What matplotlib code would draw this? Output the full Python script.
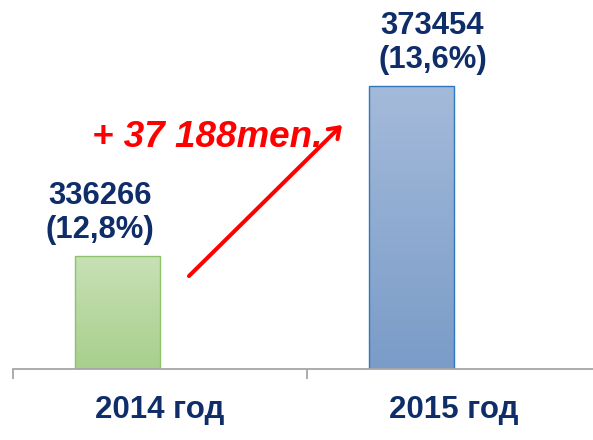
import numpy as np
import matplotlib.pyplot as plt
from matplotlib.colors import LinearSegmentedColormap

plt.rcParams['font.family'] = ['Liberation Sans', 'DejaVu Sans']

# data
years = ['2014 год', '2015 год']
values = [336266, 373454]
shares = ['12,8%', '13,6%']

navy = '#0F2D69'
grads = [('#C7E1B5', '#A8CF8C'), ('#A4BADA', '#7A9CC8')]
edges = ['#8EC26A', '#2F78BD']

fig = plt.figure(figsize=(5.93, 4.40), dpi=100)
ax = fig.add_axes([12.7 / 593, 71 / 440, 588 / 593, 369 / 440])
ax.set_xlim(-0.5, 1.5)
ax.set_ylim(311550, 392270)

x = np.arange(len(values))
shift = -0.143  # bars sit left of the category centre
bars = ax.bar(x + shift, values, width=0.289, bottom=0, zorder=2)

for b, (c0, c1), ec in zip(bars, grads, edges):
    b.set_facecolor('none')
    b.set_edgecolor(ec)
    b.set_linewidth(1.0)
    cmap = LinearSegmentedColormap.from_list('g', [c1, c0])
    x0, w = b.get_x(), b.get_width()
    top = b.get_height()
    grad = np.linspace(0, 1, 256).reshape(-1, 1)
    im = ax.imshow(grad, cmap=cmap, aspect='auto', origin='lower',
                   extent=(x0, x0 + w, ax.get_ylim()[0], top), zorder=1)
    im.set_clip_path(b)
    ax.set_xlim(-0.5, 1.5)
    ax.set_ylim(311550, 392270)

# value labels
label_dx = [-13, 15]
for b, v, s, dx in zip(bars, values, shares, label_dx):
    ax.annotate(f'{v}\n({s})', (b.get_x() + b.get_width() / 2, v),
                xytext=(dx, 8), textcoords='offset points',
                ha='center', va='bottom', fontsize=22.3, fontweight='bold',
                color=navy, linespacing=1.17)

# growth arrow and text
gain = values[1] - values[0]
ax.annotate('', xy=(0.5634, 0.6667), xytext=(0.2964, 0.2466),
            xycoords='axes fraction', textcoords='axes fraction',
            arrowprops=dict(arrowstyle='->,head_length=0.7,head_width=0.5',
                            color='#FF0000', lw=2.9))
ax.text(0.1349, 0.6016, f'+ {gain // 1000} {gain % 1000:03d}men.',
        transform=ax.transAxes, color='#FF0000', fontsize=26.5,
        fontweight='bold', fontstyle='italic', va='baseline', ha='left')

# axes styling
for side in ['top', 'right', 'left']:
    ax.spines[side].set_visible(False)
ax.spines['bottom'].set_color('#A6A6A6')
ax.spines['bottom'].set_linewidth(1.3)
ax.set_yticks([])
ax.set_xticks(x)
ax.set_xticklabels(years, fontsize=22.5, fontweight='bold', color=navy)
ax.tick_params(axis='x', which='major', length=0, pad=19)
ax.set_xticks([-0.5, 0.5, 1.5], minor=True)
ax.tick_params(axis='x', which='minor', length=7, width=1.3, color='#A6A6A6')

fig.savefig('out.png', dpi=100)
